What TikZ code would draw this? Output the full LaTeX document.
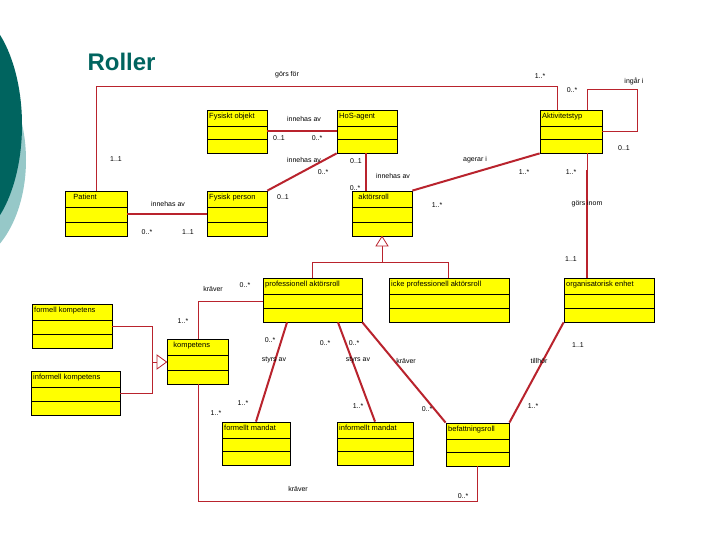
\documentclass[tikz,border=0pt]{standalone}
\usepackage{fontspec}
\setmainfont{Liberation Sans}
\begin{document}
\definecolor{teal1}{RGB}{0,100,95}
\definecolor{teal2}{RGB}{150,200,200}
\definecolor{lnred}{RGB}{185,35,45}
\definecolor{clsy}{RGB}{255,255,0}
\newcommand\mkcls[6]{%
  \path[cls] (#2,#3) rectangle (#4,#5);
  \node[clsbox, minimum width={(#4-#2)*1pt}, minimum height={(#5-#3)*1pt}] (#1) at ({(#2+#4)/2},{(#3+#5)/2}) {};
  \draw ({#2},{#3+(#5-#3)*0.37}) -- ({#4},{#3+(#5-#3)*0.37});
  \draw ({#2},{#3+(#5-#3)*0.685}) -- ({#4},{#3+(#5-#3)*0.685});
  \node[anchor=north west, inner sep=1pt, font=\fontsize{7.5}{8}\selectfont] at (#2+1,#3+2) {#6};}
\begin{tikzpicture}[x=1pt,y=-1pt,
  cls/.style={fill=clsy},
  clsbox/.style={draw=black, line width=0.8pt, inner sep=0pt},
  ln/.style={draw=lnred, line width=0.9pt},
  tk/.style={draw=lnred, line width=2pt},
  lb/.style={font=\fontsize{7}{8}\selectfont, inner sep=0pt},
  gen/.style={draw=lnred, fill=white, line width=0.8pt}]
\useasboundingbox (0,0) rectangle (720,540);
\fill[white] (0,0) rectangle (720,540);
\fill[teal2] (-40,160) ellipse [x radius=66, y radius=105];
\fill[teal1] (-40,125) ellipse [x radius=62, y radius=118];
\node[anchor=west, text=teal1, font=\bfseries\fontsize{24}{26}\selectfont] (title) at (84,62) {Roller};

\mkcls{fys}{207}{110}{267}{153}{Fysiskt objekt}
\mkcls{hos}{337}{110}{397}{153}{HoS-agent}
\mkcls{akt}{540}{110}{602}{153}{Aktivitetstyp}
\mkcls{pat}{65}{191}{127}{236}{\ \ \ Patient}
\mkcls{fp}{207}{191}{267}{236}{Fysisk person}
\mkcls{ar}{352}{191}{412}{236}{\ \ aktörsroll}
\mkcls{pro}{263}{278}{362}{322}{professionell aktörsroll}
\mkcls{icke}{389}{278}{509}{322}{icke professionell aktörsroll}
\mkcls{org}{564}{278}{654}{322}{organisatorisk enhet}
\mkcls{fk}{32}{304}{112}{348}{formell kompetens}
\mkcls{ik}{31}{371}{120}{415}{informell kompetens}
\mkcls{komp}{167}{339}{228}{384}{\ \ kompetens}
\mkcls{fm}{222}{422}{290}{465}{formellt mandat}
\mkcls{im}{337}{422}{413}{465}{informellt mandat}
\mkcls{bef}{446}{423}{509}{466}{befattningsroll}

\coordinate (g1) at (96,86); \coordinate (g2) at (557,86);
\draw[ln] (pat.north -| g1) -- (g1) -- (g2) -- (akt.north -| g2);
\coordinate (i1) at (587,89); \coordinate (i2) at (637,89); \coordinate (i3) at (637,131);
\draw[ln] (akt.north -| i1) -- (i1) -- (i2) -- (i3) -- (akt.east |- i3);
\draw[tk] (fys.east |- 0,131) -- (hos.west |- 0,131);
\draw[tk] (hos.south west) -- (fp.north east);
\draw[tk] (pat.east |- 0,214) -- (fp.west |- 0,214);
\draw[tk] (hos.south -| 366,0) -- (ar.north -| 366,0);
\draw[tk] (ar.north east) -- (akt.south west);
\draw[ln] (akt.south -| 587,0) -- (587,170);
\draw[tk] (587,170) -- (org.north -| 587,0);

\coordinate (ga) at (382,246); \coordinate (gb) at (382,262);
\coordinate (gl) at (312,262); \coordinate (gr) at (448,262);
\draw[ln] (ga) -- (gb) (gl) -- (gr) (pro.north -| gl) -- (gl) (icke.north -| gr) -- (gr);
\draw[gen] (ar.south -| ga) -- (376,246) -- (388,246) -- cycle;

\coordinate (k1) at (198,301);
\draw[ln] (pro.west |- k1) -- (k1) -- (komp.north -| k1);
\coordinate (h1) at (152,326); \coordinate (h2) at (152,393);
\draw[ln] (fk.east |- h1) -- (h1) -- (h2) -- (ik.east |- h2);
\draw[ln] (152,362) -- (157,362);
\draw[gen] (komp.west |- 0,362) -- (157,355) -- (157,369) -- cycle;

\draw[tk] (pro.south -| 287,0) -- (fm.north -| 256,0);
\draw[tk] (pro.south -| 338,0) -- (im.north -| 375,0);
\draw[tk] (pro.south east) -- (bef.north west);
\draw[tk] (org.south west) -- (bef.north east);
\coordinate (b1) at (198,501); \coordinate (b2) at (477,501);
\draw[ln] (komp.south -| b1) -- (b1) -- (b2) -- (bef.south -| b2);

\node[lb] (l1) at (287,75) {görs för};
\node[lb] (l2) at (116,159) {1..1};
\node[lb] (l3) at (540,76) {1..*};
\node[lb] (l4) at (572,90) {0..*};
\node[lb] (l5) at (634,81) {ingår i};
\node[lb] (l6) at (624,148) {0..1};
\node[lb] (l7) at (304,119) {innehas av};
\node[lb] (l8) at (279,138) {0..1};
\node[lb] (l9) at (317,138) {0..*};
\node[lb] (l10) at (304,160) {innehas av};
\node[lb] (l11) at (323,172) {0..*};
\node[lb] (l12) at (283,197) {0..1};
\node[lb] (l13) at (168,204) {innehas av};
\node[lb] (l14) at (147,232) {0..*};
\node[lb] (l15) at (188,232) {1..1};
\node[lb] (l16) at (356,161) {0..1};
\node[lb] (l17) at (393,176) {innehas av};
\node[lb] (l18) at (355,188) {0..*};
\node[lb] (l19) at (475,160) {agerar i};
\node[lb] (l20) at (524,172) {1..*};
\node[lb] (l21) at (437,205) {1..*};
\node[lb] (l22) at (571,172) {1..*};
\node[lb] (l23) at (587,204) {görs inom};
\node[lb] (l24) at (571,259) {1..1};
\node[lb] (l25) at (213,289) {kräver};
\node[lb] (l26) at (245,285) {0..*};
\node[lb] (l27) at (183,321) {1..*};
\node[lb] (l28) at (270,340) {0..*};
\node[lb] (l29) at (274,360) {styrs av};
\node[lb] (l30) at (243,403) {1..*};
\node[lb] (l31) at (216,413) {1..*};
\node[lb] (l32) at (325,343) {0..*};
\node[lb] (l33) at (354,343) {0..*};
\node[lb] (l34) at (358,360) {styrs av};
\node[lb] (l35) at (358,406) {1..*};
\node[lb] (l36) at (406,361) {kräver};
\node[lb] (l37) at (427,409) {0..*};
\node[lb] (l38) at (539,361) {tillhör};
\node[lb] (l39) at (578,345) {1..1};
\node[lb] (l40) at (533,406) {1..*};
\node[lb] (l41) at (298,489) {kräver};
\node[lb] (l42) at (463,496) {0..*};
\end{tikzpicture}
\end{document}
